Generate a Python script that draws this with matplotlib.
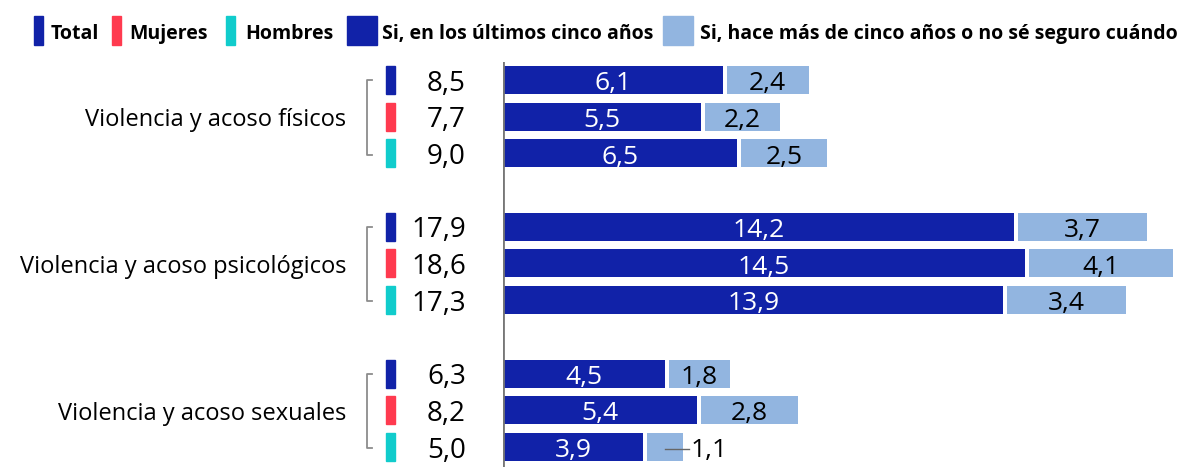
import numpy as np
import matplotlib.pyplot as plt
from matplotlib.patches import Rectangle

plt.rcParams['font.family'] = ['Open Sans', 'Noto Sans', 'DejaVu Sans']

# %%
categories = ['Violencia y acoso físicos',
              'Violencia y acoso psicológicos',
              'Violencia y acoso sexuales']
groups = ['Total', 'Mujeres', 'Hombres']
recent = [[6.1, 5.5, 6.5],
          [14.2, 14.5, 13.9],
          [4.5, 5.4, 3.9]]
older = [[2.4, 2.2, 2.5],
         [3.7, 4.1, 3.4],
         [1.8, 2.8, 1.1]]
totals = [[8.5, 7.7, 9.0],
          [17.9, 18.6, 17.3],
          [6.3, 8.2, 5.0]]
legend_labels = ['Total', 'Mujeres', 'Hombres',
                 'Si, en los últimos cinco años',
                 'Si, hace más de cinco años o no sé seguro cuándo']

dark = '#1122a8'
light = '#92b5e0'
group_colors = ['#1122a8', '#ff3a4f', '#11cccc']

W, H = 1184, 467
fig = plt.figure(figsize=(W / 100, H / 100), dpi=100)

# axes in pixel layout
x0_px, top_px = 503, 62
scale = 36.0            # px per unit
pitch = 36.7            # px per row
ax = fig.add_axes([x0_px / W, 0, (W - x0_px) / W, 1 - top_px / H])
ax.set_xlim(0, (W - x0_px) / scale)
ax.set_ylim(10 + (H - 447) / pitch, -(80 - top_px) / pitch)
ax.axis('off')

def px(x):
    '''figure pixel x -> data x'''
    return (x - x0_px) / scale

def fmt(v):
    return f'{v:.1f}'.replace('.', ',')

gap = 4 / scale
bh = 28 / pitch
fs = 19
dy = 0.1                 # small downward nudge of the labels

for g, cat in enumerate(categories):
    ys = [g * 4 + i for i in range(3)]
    ax.barh(ys, recent[g], height=bh, left=0, color=dark)
    ax.barh(ys, np.array(older[g]) - gap, height=bh,
            left=np.array(recent[g]) + gap, color=light)
    for i, y in enumerate(ys):
        ax.text(recent[g][i] / 2, y + dy, fmt(recent[g][i]),
                ha='center', va='center', color='white', fontsize=fs)
        lab = fmt(older[g][i])
        if older[g][i] < 1.5:
            ax.plot([px(665), px(689)], [y + 0.05, y + 0.05],
                    color='#666666', lw=1)
            ax.text(px(691), y + dy, lab, ha='left', va='center',
                    color='black', fontsize=fs)
        else:
            ax.text(recent[g][i] + gap / 2 + older[g][i] / 2, y + dy, lab,
                    ha='center', va='center', color='black', fontsize=fs)
        ax.text(px(466), y + dy, fmt(totals[g][i]),
                ha='right', va='center', fontsize=fs + 1, clip_on=False)
        ax.add_patch(Rectangle((px(386), y - bh / 2), 9 / scale, bh,
                               color=group_colors[i], clip_on=False))
    # bracket
    bx = px(367)
    ax.plot([bx + 5 / scale, bx, bx, bx + 5 / scale],
            [ys[0], ys[0], ys[2] + 0.03, ys[2] + 0.03],
            color='#8c8c8c', lw=1.3, clip_on=False)
    ax.text(px(346), ys[1] + dy, cat, ha='right', va='center',
            fontsize=17, clip_on=False)

ax.axvline(0, color='#777777', lw=2)

# legend
items = [(34, 9, group_colors[0], 51), (112, 9, group_colors[1], 129),
         (226, 9, group_colors[2], 245), (347, 30, dark, 382),
         (663, 30, light, 700)]
for (lx, lw, col, tx), lab in zip(items, legend_labels):
    fig.patches.append(Rectangle((lx / W, (H - 45) / H), lw / W, 29 / H,
                                 color=col, transform=fig.transFigure))
    fig.text(tx / W, 1 - 39 / H, lab, ha='left', va='baseline',
             fontsize=14, fontweight='bold')

fig.savefig('out.png', dpi=100)
